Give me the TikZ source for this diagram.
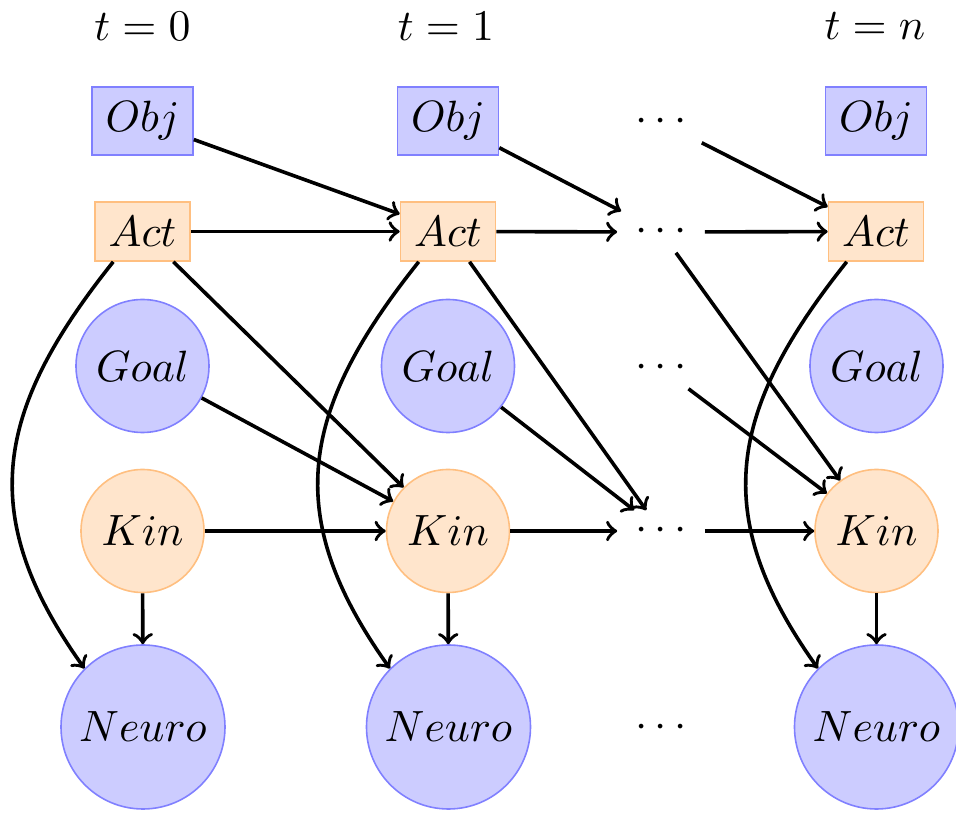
\documentclass[tikz,border=0pt]{standalone}
\begin{document}
\begin{tikzpicture}[x=0.25pt,y=-0.25pt,
  every node/.style={font=\fontsize{11}{13}\selectfont},
  bluebox/.style={draw=blue!50, fill=blue!20, rectangle, minimum width=25.25pt, minimum height=17pt},
  orangebox/.style={draw=orange!50, fill=orange!20, rectangle, minimum width=23.75pt, minimum height=14.75pt},
  goalnode/.style={draw=blue!50, fill=blue!20, circle, minimum size=33.25pt, inner sep=0pt},
  kinnode/.style={draw=orange!50, fill=orange!20, circle, minimum size=30.75pt, inner sep=0pt},
  neuronode/.style={draw=blue!50, fill=blue!20, circle, minimum size=41pt, inner sep=0pt},
  dotsnode/.style={inner sep=0pt, minimum width=21.5pt, minimum height=10pt},
  arr/.style={->, line width=0.9pt}]
\useasboundingbox (0,0) rectangle (956,813);

% time labels
\node (t0) at (142.5,26) {$t=0$};
\node (t1) at (446,26) {$t=1$};
\node (tn) at (875,26) {$t=n$};

% column 0
\node[bluebox] (obj0) at (142.5,121) {$Obj$};
\node[orangebox] (act0) at (142.5,231.5) {$Act$};
\node[goalnode] (goal0) at (142.5,366) {$Goal$};
\node[kinnode] (kin0) at (142.5,531) {$Kin$};
\node[neuronode] (neuro0) at (143,727) {$Neuro$};

% column 1
\node[bluebox] (obj1) at (448,121) {$Obj$};
\node[orangebox] (act1) at (448,231.5) {$Act$};
\node[goalnode] (goal1) at (448,366) {$Goal$};
\node[kinnode] (kin1) at (448,531) {$Kin$};
\node[neuronode] (neuro1) at (448.5,727) {$Neuro$};

% dots column
\node[dotsnode] (dobj) at (661,122) {$\cdots$};
\node[dotsnode] (dact) at (661,232) {$\cdots$};
\node[dotsnode] (dgoal) at (661,368) {$\cdots$};
\node[dotsnode] (dkin) at (661,531) {$\cdots$};
\node[dotsnode] (dneuro) at (661,728) {$\cdots$};

% column n
\node[bluebox] (objn) at (876,121) {$Obj$};
\node[orangebox] (actn) at (876,231.5) {$Act$};
\node[goalnode] (goaln) at (876.5,366) {$Goal$};
\node[kinnode] (kinn) at (876.5,531) {$Kin$};
\node[neuronode] (neuron) at (876.5,727) {$Neuro$};

% Act row
\draw[arr] (obj0) -- (act1);
\draw[arr] (act0) -- (act1);
\draw[arr] (act1) -- (dact);
\draw[arr] (dact) -- (actn);
\draw[arr] (obj1) -- (dact);
\draw[arr] (dobj) -- (actn);

% diagonals into Kin
\draw[arr] (act0) -- (kin1);
\draw[arr] (goal0) -- (kin1);
\draw[arr] (act1) -- (dkin);
\draw[arr] (goal1) -- (dkin);
\draw[arr] (dact) -- (kinn);
\draw[arr] (dgoal) -- (kinn);

% Kin row
\draw[arr] (kin0) -- (kin1);
\draw[arr] (kin1) -- (dkin);
\draw[arr] (dkin) -- (kinn);

% Kin to Neuro
\draw[arr] (kin0) -- (neuro0);
\draw[arr] (kin1) -- (neuro1);
\draw[arr] (kinn) -- (neuron);

% Act to Neuro curves
\draw[arr] (act0.-134) .. controls (-5,410) and (-25,515) .. (neuro0.135);
\draw[arr] (act1.-134) .. controls (300.5,410) and (280.5,515) .. (neuro1.135);
\draw[arr] (actn.-134) .. controls (728.5,410) and (708.5,515) .. (neuron.135);
\end{tikzpicture}
\end{document}
